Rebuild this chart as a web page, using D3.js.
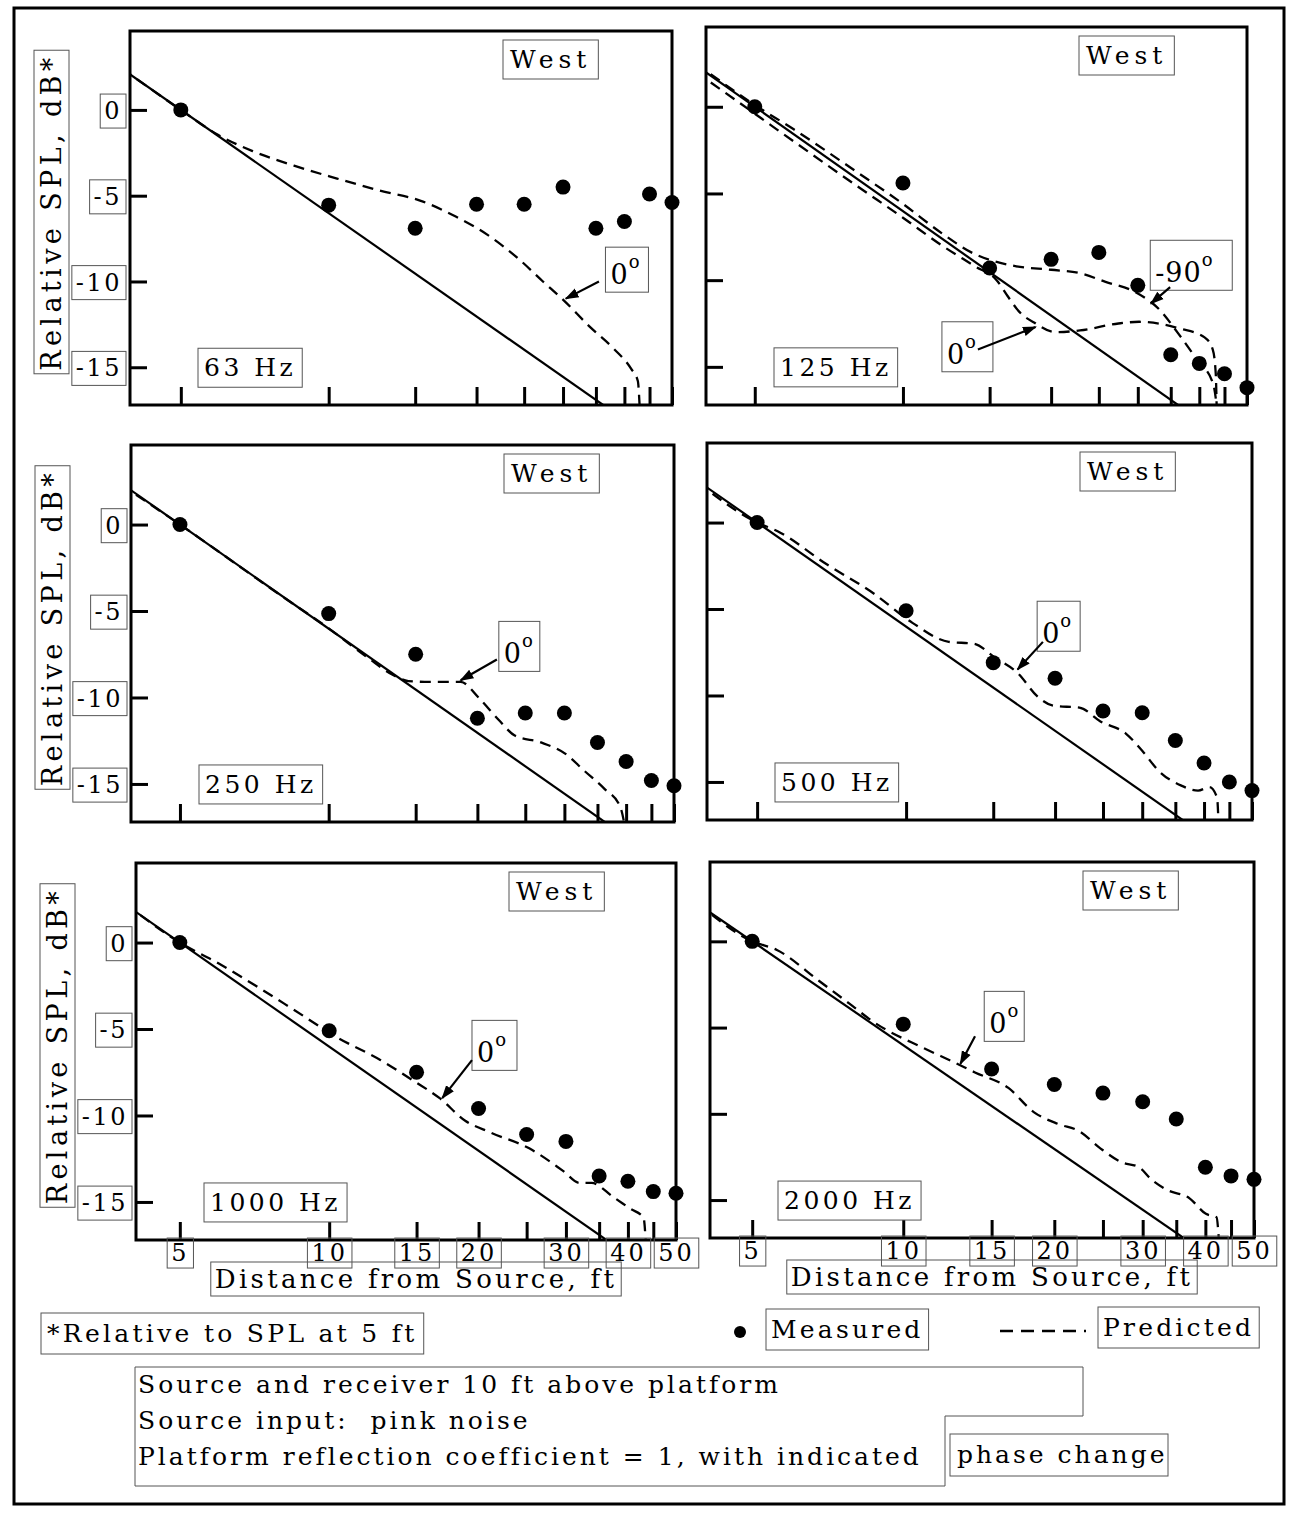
<!DOCTYPE html>
<html>
<head>
<meta charset="utf-8">
<script src="https://cdn.jsdelivr.net/npm/d3@7"></script>
<style>
  body { margin: 0; background: #fff; }
</style>
</head>
<body>
<script>
// ---- data ----
var distances = [5, 10, 15, 20, 25, 30, 35, 40, 45, 50];
var xTicks = [5, 10, 15, 20, 25, 30, 35, 40, 45, 50];
var xTickLabels = [5, 10, 15, 20, 30, 40, 50];
var yTicks = [0, -5, -10, -15];
var frequencies = ["63 Hz", "125 Hz", "250 Hz", "500 Hz", "1000 Hz", "2000 Hz"];

// measured SPL (dB rel. 5 ft) at each distance
var measured63 = [0, -5.55, -6.9, -5.5, -5.5, -4.5, -6.9, -6.5, -4.9, -5.4];
var measured125 = [0, -4.4, -9.3, -8.8, -8.4, -10.3, -14.3, -14.8, -15.4, -16.2];
var measured250 = [0, -5.15, -7.5, -11.2, -10.9, -10.9, -12.6, -13.7, -14.8, -15.1];
var measured500 = [0, -5.1, -8.1, -9.0, -10.9, -11.0, -12.6, -13.9, -15.0, -15.5];
var measured1000 = [0, -5.1, -7.5, -9.6, -11.1, -11.5, -13.5, -13.8, -14.4, -14.5];
var measured2000 = [0, -4.8, -7.4, -8.3, -8.8, -9.3, -10.3, -13.1, -13.6, -13.8];

// free field line (solid): 0 dB at 5 ft, -20 dB at 50 ft
var freeField = [[3.5, 3.1], [50, -20]];

// predicted curves [distance ft, dB]
var predicted63 = [[3.8, 2.4], [5, 0], [5.95, -1.45], [7, -2.4], [8.5, -3.25], [10.4, -4.0], [12.7, -4.7], [15.4, -5.3],
  [18.1, -6.2], [21.1, -7.3], [24.4, -8.7], [27.3, -10.0], [30.1, -11.1], [33.9, -12.6], [38, -13.9], [41.3, -15.1],
  [42.6, -15.8], [43.0, -17.5]];
var predicted125m90 = [[3.8, 2.5], [5, 0.1], [6, -1.3], [8, -3.7], [10, -5.6], [12, -7.3], [14, -8.5], [15.5, -8.95],
  [17, -9.2], [20, -9.4], [22.9, -9.6], [25.8, -10.1], [29.7, -10.7], [33.2, -11.7], [36.3, -13.1], [39.6, -14.6],
  [42.7, -16.0], [43.5, -17.5]];
var predicted125z = [[3.8, 2.0], [5, -0.4], [6, -2.0], [8, -4.5], [10, -6.4], [12, -8.0], [14, -9.2], [15.5, -10.0],
  [16.3, -10.9], [17.2, -11.8], [18.6, -12.5], [20.4, -13.0], [22.9, -12.9], [27.4, -12.5], [30.2, -12.4],
  [36.6, -12.8], [41, -13.3], [42.6, -14.0], [43.2, -15.4], [43.4, -17.5]];
var predicted250 = [[3.8, 2.3], [5, 0], [8, -4.1], [10, -6.0], [12, -7.7], [13.5, -8.7], [14.5, -9.05], [16, -9.1],
  [18.5, -9.1], [20.1, -10.0], [22.1, -11.3], [23.8, -12.2], [26.9, -12.6], [30.3, -13.3], [32.8, -14.2],
  [36.2, -15.3], [38.9, -16.3], [39.8, -17.5]];
var predicted500 = [[3.8, 2.3], [5, 0], [5.5, -0.5], [6.9, -2.4], [8.6, -4.1], [10.3, -5.8], [12.2, -6.9], [13.7, -7.0],
  [15.1, -7.8], [16.8, -8.7], [18.5, -10.1], [19.9, -10.6], [22.4, -10.7], [24.7, -11.5], [27.8, -12.2], [30, -13.2],
  [32.5, -14.4], [35.9, -15.2], [38.9, -15.5], [41, -15.3], [42.5, -15.9], [42.8, -17.5]];
var predicted1000 = [[3.9, 2.2], [5, 0], [5.98, -1.2], [7.3, -2.7], [8.5, -3.9], [10.4, -5.5], [12.7, -6.8], [14.8, -8.0],
  [16.7, -9.0], [18.8, -10.3], [21.2, -11.0], [25.3, -11.9], [29.6, -13.2], [32, -13.9], [33.8, -13.9], [37.3, -14.7],
  [40.5, -15.4], [43, -15.9], [43.5, -17.5]];
var predicted2000 = [[3.9, 2.2], [5, 0], [5.6, -0.5], [6.8, -2.3], [7.8, -3.6], [8.7, -4.65], [11, -6.2], [12.6, -7.0],
  [13.9, -7.6], [16.2, -8.5], [18.2, -9.9], [20.4, -10.6], [22.4, -11.0], [24.7, -12.0], [27.2, -12.8], [29.5, -13.1],
  [31.2, -13.8], [33.5, -14.4], [37.2, -14.9], [40.1, -15.8], [42.1, -16.0], [42.6, -17.5]];

// ---- layout ----
var FONT = "'DejaVu Serif', 'Liberation Serif', serif";
var panels = [
  { left: 130, top: 31, right: 672, bottom: 405, xMin: 3.94, row: 0, col: 0, measured: measured63, predicted: [predicted63],
    notes: [{ label: "0", d: 36.6, db: -8.0, w: 43, h: 45, from: [35.5, -10.0], to: [30.4, -11.0] }] },
  { left: 706, top: 27, right: 1247, bottom: 405, xMin: 3.98, row: 0, col: 1, measured: measured125, predicted: [predicted125m90, predicted125z],
    notes: [{ label: "-90", d: 31.8, db: -7.7, w: 82, h: 50, from: [34.9, -10.4], to: [31.9, -11.35] },
            { label: "0", d: 12.0, db: -12.4, w: 51, h: 50, from: [14.2, -14.0], to: [18.6, -12.7] }] },
  { left: 131, top: 445, right: 674, bottom: 822, xMin: 3.98, row: 1, col: 0, measured: measured250, predicted: [predicted250],
    notes: [{ label: "0", d: 22.1, db: -5.6, w: 41, h: 50, from: [21.9, -7.8], to: [18.5, -9.0] }] },
  { left: 707, top: 443, right: 1252, bottom: 820, xMin: 3.96, row: 1, col: 1, measured: measured500, predicted: [predicted500],
    notes: [{ label: "0", d: 18.4, db: -4.55, w: 43, h: 50, from: [18.9, -6.9], to: [16.8, -8.5] }] },
  { left: 136, top: 863, right: 676, bottom: 1240, xMin: 4.08, row: 2, col: 0, measured: measured1000, predicted: [predicted1000],
    notes: [{ label: "0", d: 19.4, db: -4.5, w: 45, h: 50, from: [19.4, -6.8], to: [16.9, -9.0] }] },
  { left: 710, top: 862, right: 1254, bottom: 1238, xMin: 4.12, row: 2, col: 1, measured: measured2000, predicted: [predicted2000],
    notes: [{ label: "0", d: 14.5, db: -2.9, w: 40, h: 50, from: [13.9, -5.5], to: [13.0, -7.1] }] }
];

// draws a thin scan-style box around a text element
function boxIt(sel, padX, padY) {
  sel.each(function () {
    var node = this;
    if (!d3.select(node).text()) return;
    var b = node.getBBox();
    d3.select(node.parentNode).insert("rect", function () { return node; })
      .attr("x", b.x - padX)
      .attr("y", b.y - padY)
      .attr("width", b.width + 2 * padX)
      .attr("height", b.height + 2 * padY)
      .attr("transform", d3.select(node).attr("transform"))
      .attr("fill", "none")
      .attr("stroke", "#555")
      .attr("stroke-width", 1);
  });
}

var svg = d3.select("body").append("svg")
  .attr("width", 1293)
  .attr("height", 1513)
  .style("background-color", "#fff");

var defs = svg.append("defs");
defs.append("marker")
  .attr("id", "arrow")
  .attr("viewBox", "0 0 10 10")
  .attr("refX", 9).attr("refY", 5)
  .attr("markerWidth", 14).attr("markerHeight", 14)
  .attr("markerUnits", "userSpaceOnUse")
  .attr("orient", "auto")
  .append("path")
  .attr("d", "M0,1.5 L10,5 L0,8.5 Z")
  .attr("fill", "#000");

// outer border
svg.append("rect")
  .attr("x", 14).attr("y", 8)
  .attr("width", 1270).attr("height", 1496)
  .attr("fill", "none").attr("stroke", "#000").attr("stroke-width", 3);

panels.forEach(function (p, i) {
  var x = d3.scaleLog().domain([p.xMin, 50]).range([p.left, p.right]);
  var y = d3.scaleLinear().domain([-17.2, 4.6]).range([p.bottom, p.top]);
  var g = svg.append("g").attr("font-family", FONT);

  defs.append("clipPath").attr("id", "clip" + i)
    .append("rect")
    .attr("x", p.left).attr("y", p.top)
    .attr("width", p.right - p.left).attr("height", p.bottom - p.top);

  var plot = g.append("g").attr("clip-path", "url(#clip" + i + ")");
  var line = d3.line().x(function (d) { return x(d[0]); }).y(function (d) { return y(d[1]); });
  var curve = d3.line().curve(d3.curveMonotoneX).x(function (d) { return x(d[0]); }).y(function (d) { return y(d[1]); });

  plot.append("path").datum(freeField)
    .attr("d", line)
    .attr("fill", "none").attr("stroke", "#000").attr("stroke-width", 2.2);

  p.predicted.forEach(function (series) {
    plot.append("path").datum(series)
      .attr("d", curve)
      .attr("fill", "none").attr("stroke", "#000").attr("stroke-width", 2.3)
      .attr("stroke-dasharray", "11,7");
  });

  // frame
  g.append("rect")
    .attr("x", p.left).attr("y", p.top)
    .attr("width", p.right - p.left).attr("height", p.bottom - p.top)
    .attr("fill", "none").attr("stroke", "#000").attr("stroke-width", 3);

  // y axis (ticks inward)
  var yAxis = g.append("g")
    .attr("transform", "translate(" + p.left + ",0)")
    .call(d3.axisLeft(y).tickValues(yTicks).tickSize(-17).tickPadding(8)
      .tickFormat(function (d) { return p.col === 0 ? (d === 0 ? "0" : "-" + Math.abs(d)) : ""; }));
  yAxis.select(".domain").remove();
  yAxis.selectAll("line").attr("stroke-width", 3);
  yAxis.selectAll("text")
    .attr("font-family", FONT).attr("font-size", 24).attr("letter-spacing", 2.5)
    .attr("fill", "#000").attr("dy", "0.36em");
  boxIt(yAxis.selectAll("text"), 4, 3);

  // x axis (ticks inward)
  var xAxis = g.append("g")
    .attr("transform", "translate(0," + p.bottom + ")")
    .call(d3.axisBottom(x).tickValues(xTicks).tickSize(-18).tickPadding(4)
      .tickFormat(function (d) { return p.row === 2 && xTickLabels.indexOf(d) >= 0 ? String(d) : ""; }));
  xAxis.select(".domain").remove();
  xAxis.selectAll("line").attr("stroke-width", 3);
  xAxis.selectAll("text")
    .attr("font-family", FONT).attr("font-size", 24).attr("letter-spacing", 3).attr("fill", "#000");
  boxIt(xAxis.selectAll("text"), 4, 1);

  // measured points
  g.selectAll("circle.m")
    .data(p.measured.map(function (v, k) { return [distances[k], v]; }))
    .join("circle")
    .attr("class", "m")
    .attr("cx", function (d) { return x(d[0]); })
    .attr("cy", function (d) { return y(d[1]); })
    .attr("r", 7.5)
    .attr("fill", "#000");

  // West label
  var west = g.append("text")
    .attr("x", p.left + 380).attr("y", p.top + 37)
    .attr("font-size", 25).attr("letter-spacing", 5)
    .text("West");
  boxIt(west, 7, 5);

  // frequency label
  var freq = g.append("text")
    .attr("x", p.left + 74).attr("y", y(-15) + 9)
    .attr("font-size", 25).attr("letter-spacing", 3.5)
    .text(frequencies[i]);
  boxIt(freq, 6, 5);

  // phase annotations
  p.notes.forEach(function (n) {
    var bx = x(n.d), by = y(n.db);
    g.append("rect")
      .attr("x", bx).attr("y", by).attr("width", n.w).attr("height", n.h)
      .attr("fill", "#fff").attr("stroke", "#555").attr("stroke-width", 1);
    var t = g.append("text")
      .attr("x", bx + 5).attr("y", by + n.h - 8)
      .attr("font-size", 27).attr("letter-spacing", 1)
      .text(n.label);
    t.append("tspan").attr("dy", -16).attr("font-size", 18).text("o");
    g.append("line")
      .attr("x1", x(n.from[0])).attr("y1", y(n.from[1]))
      .attr("x2", x(n.to[0])).attr("y2", y(n.to[1]))
      .attr("stroke", "#000").attr("stroke-width", 2.2)
      .attr("marker-end", "url(#arrow)");
  });

  // y title
  if (p.col === 0) {
    var cy = (p.top + p.bottom) / 2 - 6;
    var yt = g.append("text")
      .attr("transform", "translate(" + (p.left - 69) + "," + cy + ") rotate(-90)")
      .attr("text-anchor", "middle")
      .attr("font-size", 27).attr("letter-spacing", 4.4)
      .text("Relative SPL, dB*");
    boxIt(yt, 3, 2);
  }
  // x title
  if (p.row === 2) {
    var xt = g.append("text")
      .attr("x", (p.left + p.right) / 2 + 10).attr("y", p.bottom + 48)
      .attr("text-anchor", "middle")
      .attr("font-size", 26).attr("letter-spacing", 3.3)
      .text("Distance from Source, ft");
    boxIt(xt, 4, 2);
  }
});

// ---- legend and notes ----
var foot = svg.append("g").attr("font-family", FONT).attr("font-size", 25);
boxIt(foot.append("text").attr("x", 47).attr("y", 1342).attr("letter-spacing", 3.3).text("*Relative to SPL at 5 ft"), 6, 6);
foot.append("circle").attr("cx", 740).attr("cy", 1332).attr("r", 6).attr("fill", "#000");
boxIt(foot.append("text").attr("x", 771).attr("y", 1338).attr("letter-spacing", 3.2).text("Measured"), 5, 6);
foot.append("line")
  .attr("x1", 1000).attr("x2", 1086).attr("y1", 1331).attr("y2", 1331)
  .attr("stroke", "#000").attr("stroke-width", 2.3).attr("stroke-dasharray", "13,8");
boxIt(foot.append("text").attr("x", 1103).attr("y", 1336).attr("letter-spacing", 3.2).text("Predicted"), 5, 6);

foot.append("path")
  .attr("d", "M135,1367 H1083 V1416 H945 V1486 H135 Z")
  .attr("fill", "none").attr("stroke", "#555").attr("stroke-width", 1);
foot.append("rect")
  .attr("x", 950).attr("y", 1434).attr("width", 218).attr("height", 42)
  .attr("fill", "none").attr("stroke", "#555").attr("stroke-width", 1);
foot.append("text").attr("x", 138).attr("y", 1393).attr("letter-spacing", 3).text("Source and receiver 10 ft above platform");
foot.append("text").attr("x", 138).attr("y", 1429).attr("letter-spacing", 3).attr("xml:space", "preserve").text("Source input:  pink noise");
foot.append("text").attr("x", 138).attr("y", 1465).attr("letter-spacing", 3).text("Platform reflection coefficient = 1, with indicated");
foot.append("text").attr("x", 957).attr("y", 1463).attr("letter-spacing", 3).text("phase change");
</script>
</body>
</html>
